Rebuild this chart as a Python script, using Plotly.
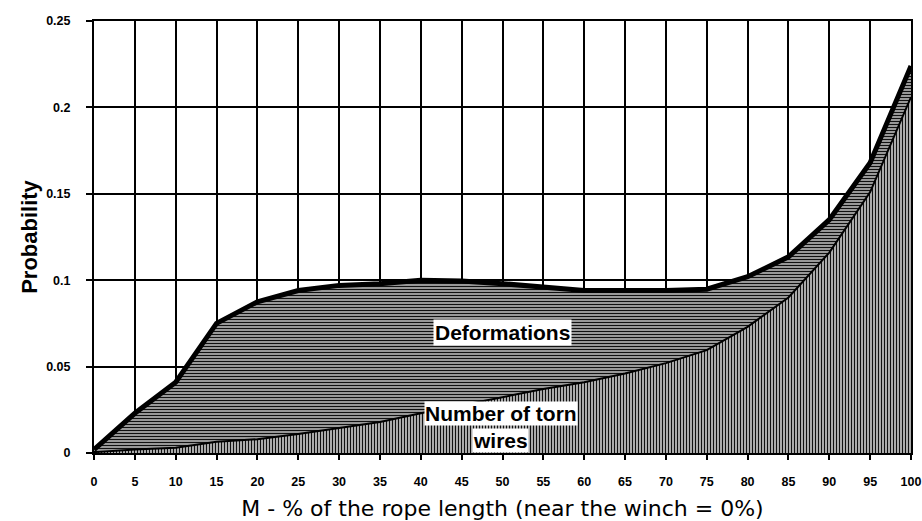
import plotly.graph_objects as go

# Data
rope_pct = [0, 5, 10, 15, 20, 25, 30, 35, 40, 45, 50, 55, 60, 65, 70, 75, 80, 85, 90, 95, 100]
deformations = [0.002, 0.023, 0.041, 0.075, 0.0875, 0.094, 0.097, 0.098, 0.100, 0.0995, 0.098,
                 0.096, 0.094, 0.094, 0.094, 0.0948, 0.102, 0.1135, 0.135, 0.168, 0.224]
torn_wires = [0.0005, 0.002, 0.003, 0.0065, 0.008, 0.011, 0.0145, 0.018, 0.023, 0.0277, 0.0326,
              0.037, 0.041, 0.046, 0.052, 0.0595, 0.073, 0.090, 0.116, 0.151, 0.206]
x_ticks = list(range(0, 101, 5))
y_ticks = [0, 0.05, 0.1, 0.15, 0.2, 0.25]

fig = go.Figure()

fig.add_trace(go.Scatter(
    x=rope_pct, y=torn_wires, mode="lines",
    line=dict(color="black", width=2),
    fill="tozeroy",
    fillcolor="#c8c8c8",
    fillpattern=dict(shape="|", fgcolor="#111111", bgcolor="#dedede", size=3, solidity=0.5,
                     fillmode="replace"),
    showlegend=False, hoverinfo="skip",
))
fig.add_trace(go.Scatter(
    x=rope_pct, y=deformations, mode="lines",
    line=dict(color="black", width=5),
    fill="tonexty",
    fillcolor="#a8a8a8",
    fillpattern=dict(shape="-", fgcolor="#111111", bgcolor="#c4c4c4", size=3, solidity=0.5,
                     fillmode="replace"),
    showlegend=False, hoverinfo="skip",
))

ann_font = dict(family="Liberation Sans, Arial, sans-serif", size=21, color="black")
fig.add_annotation(x=50, y=0.070, text="<b>Deformations</b>", showarrow=False,
                   font=ann_font, bgcolor="white", borderpad=1)
fig.add_annotation(x=49.8, y=0.0229, text="<b>Number of torn</b>", showarrow=False,
                   font=ann_font, bgcolor="white", borderpad=0)
fig.add_annotation(x=49.8, y=0.0075, text="<b>wires</b>", showarrow=False,
                   font=ann_font, bgcolor="white", borderpad=0)

tick_font = dict(family="Liberation Sans, Arial, sans-serif", size=12.5, color="black", weight="bold")

fig.update_xaxes(
    range=[0, 100], tickmode="array", tickvals=x_ticks, ticktext=[str(v) for v in x_ticks],
    showgrid=True, gridcolor="black", gridwidth=2,
    showline=True, linecolor="black", linewidth=2, mirror=True,
    ticks="outside", ticklen=5, tickwidth=2, tickcolor="black",
    tickfont=tick_font, ticklabelstandoff=11,
    zeroline=False, automargin=False,
    title=dict(text="M - % of the rope length (near the winch = 0%)",
               font=dict(family="DejaVu Sans, sans-serif", size=22, color="black"),
               standoff=14),
)
fig.update_yaxes(
    range=[0, 0.25], tickmode="array", tickvals=y_ticks,
    ticktext=["0", "0.05", "0.1", "0.15", "0.2", "0.25"],
    showgrid=True, gridcolor="black", gridwidth=2,
    showline=True, linecolor="black", linewidth=2, mirror=True,
    ticks="outside", ticklen=6, tickwidth=2, tickcolor="black",
    tickfont=tick_font, ticklabelstandoff=13,
    zeroline=False, automargin=False,
    title=dict(text="<b>Probability</b>",
               font=dict(family="Liberation Sans, Arial, sans-serif", size=22, color="black"),
               standoff=2),
)

fig.update_layout(
    width=922, height=521,
    margin=dict(l=94, r=11, t=21, b=68),
    paper_bgcolor="white", plot_bgcolor="white",
)

# Remove the default page margin so the figure fills the 922x521 window exactly.
fig.write_html(
    "out.html",
    config={"displayModeBar": False},
    post_script=(
        "document.body.style.margin='0';"
        "document.body.style.overflow='hidden';"
        "document.documentElement.style.overflow='hidden';"
    ),
)
